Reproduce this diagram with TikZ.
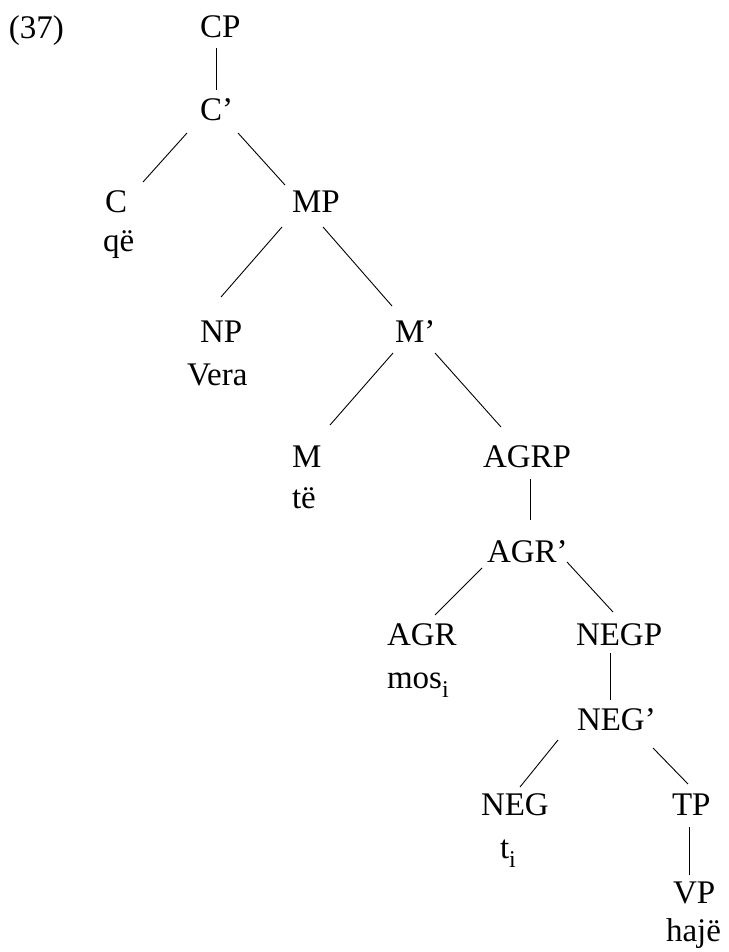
\documentclass[tikz,border=0pt]{standalone}
\usepackage{fontspec}
\setmainfont{Liberation Serif}
\usetikzlibrary{calc}
\newcommand\sbi{\raisebox{-0.28em}{\fontsize{24}{24}\selectfont i}}
\tikzset{
  lbl/.style={anchor=base west, inner sep=0pt, outer sep=0pt, font=\fontsize{33}{38}\selectfont},
  edge/.style={draw=black, line width=0.9pt}
}
\begin{document}
\begin{tikzpicture}[x=1pt,y=-1pt]
\useasboundingbox[fill=white] (0,0) rectangle (728,952);
% labels
\node[lbl] (ex)   at (9,39)   {(37)};
\node[lbl] (cp)   at (200,38) {CP};
\node[lbl] (cb)   at (200,121) {C’};
\node[lbl] (c)    at (105,212) {C};
\node[lbl] (qe)   at (103,251) {që};
\node[lbl] (mp)   at (292,212) {MP};
\node[lbl] (np)   at (200,342) {NP};
\node[lbl] (vera) at (187,385) {Vera};
\node[lbl] (mb)   at (395,342) {M’};
\node[lbl] (m)    at (292,467) {M};
\node[lbl] (te)   at (292,508) {të};
\node[lbl] (agrp) at (483,467) {AGRP};
\node[lbl] (agrb) at (487,562) {AGR’};
\node[lbl] (agr)  at (387,645) {AGR};
\node[lbl] (mos)  at (387,688) {mos\sbi};
\node[lbl] (negp) at (576,645) {NEGP};
\node[lbl] (negb) at (577,730) {NEG’};
\node[lbl] (neg)  at (481,815) {NEG};
\node[lbl] (ti)   at (500,858) {t\sbi};
\node[lbl] (tp)   at (672,815) {TP};
\node[lbl] (vp)   at (673,903) {VP};
\node[lbl] (haje) at (666,941) {hajë};
% connectors
\draw[edge] ($(cp.base west)+(16,10)$)   -- ($(cb.base west)+(16,-31)$);
\draw[edge] ($(cb.base west)+(-13,12)$)  -- ($(c.base west)+(38,-30)$);
\draw[edge] ($(cb.base west)+(38,12)$)   -- ($(mp.base west)+(-7,-27)$);
\draw[edge] ($(mp.base west)+(-10,15)$)  -- ($(np.base west)+(21,-45)$);
\draw[edge] ($(mp.base west)+(31,15)$)   -- ($(mb.base west)+(-3,-36)$);
\draw[edge] ($(mb.base west)+(-2,11)$)   -- ($(m.base west)+(38,-42)$);
\draw[edge] ($(mb.base west)+(40,11)$)   -- ($(agrp.base west)+(18,-40)$);
\draw[edge] ($(agrp.base west)+(47,12)$) -- ($(agrb.base west)+(43,-42)$);
\draw[edge] ($(agrb.base west)+(-5,6)$)  -- ($(agr.base west)+(48,-30)$);
\draw[edge] ($(agrb.base west)+(80,0)$)  -- ($(negp.base west)+(37,-33)$);
\draw[edge] ($(negp.base west)+(34,8)$)  -- ($(negb.base west)+(33,-30)$);
\draw[edge] ($(negb.base west)+(-19,10)$) -- ($(neg.base west)+(39,-28)$);
\draw[edge] ($(negb.base west)+(76,18)$) -- ($(tp.base west)+(16,-31)$);
\draw[edge] ($(tp.base west)+(17,12)$)   -- ($(vp.base west)+(16,-28)$);
\end{tikzpicture}
\end{document}
